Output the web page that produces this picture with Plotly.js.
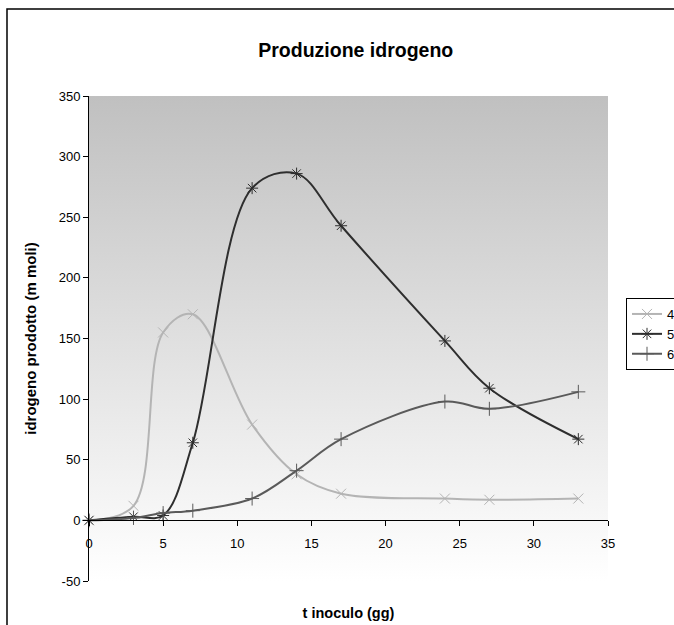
<!DOCTYPE html>
<html>
<head>
<meta charset="utf-8">
<script src="https://cdn.plot.ly/plotly-3.0.1.min.js"></script>
<style>html,body{margin:0;padding:0;background:#fff;}#chart{width:674px;height:625px;}</style>
</head>
<body>
<div id="chart"></div>
<script>
// Data
const days = [0, 3, 5, 7, 11, 14, 17, 24, 27, 33];
const serie4 = [0, 12, 155, 170, 79, 38, 22, 18, 17, 18];
const serie5 = [0, 3, 4, 64, 274, 286, 243, 148, 109, 67];
const serie6 = [0, 2, 6, 8, 18, 41, 67, 98, 92, 106];
const seriesNames = ["4", "5", "6"];
const xTicks = [0, 5, 10, 15, 20, 25, 30, 35];
const yTicks = [-50, 0, 50, 100, 150, 200, 250, 300, 350];

const font = "Liberation Sans, Arial, sans-serif";

function trace(y, name, color, symbol) {
  return {
    x: days, y: y, name: name, type: "scatter", mode: "lines+markers",
    line: {color: color, width: 2, shape: "spline", smoothing: 1},
    marker: {symbol: symbol, size: 10, color: color, line: {color: color, width: 1}},
    cliponaxis: false
  };
}

const traces = [
  trace(serie4, seriesNames[0], "#b4b4b4", "x-thin-open"),
  trace(serie5, seriesNames[1], "#2e2e2e", "asterisk-open"),
  trace(serie6, seriesNames[2], "#5a5a5a", "cross-thin-open")
];

const gradSvg = '<svg xmlns="http://www.w3.org/2000/svg" width="100" height="100" preserveAspectRatio="none">' +
  '<defs><linearGradient id="g" x1="0" y1="0" x2="0" y2="1">' +
  '<stop offset="0" stop-color="#c0c0c0"/><stop offset="1" stop-color="#ffffff"/></linearGradient></defs>' +
  '<rect width="100" height="100" fill="url(#g)"/></svg>';

const layout = {
  width: 674, height: 625,
  margin: {l: 89, r: 66, t: 96, b: 44, autoexpand: false},
  paper_bgcolor: "#ffffff",
  plot_bgcolor: "rgba(0,0,0,0)",
  font: {family: font, size: 13, color: "#000"},
  title: {text: "<b>Produzione idrogeno</b>", font: {family: font, size: 19.5, color: "#000"},
          x: 0.514, xref: "paper", xanchor: "center", y: 0.92, yref: "container", yanchor: "middle"},
  xaxis: {
    range: [0, 35], tickvals: xTicks, ticktext: xTicks.map(String),
    anchor: "free", position: 0.125,
    showline: true, linecolor: "#000", linewidth: 1,
    ticks: "outside", ticklen: 5, tickcolor: "#000", ticklabelstandoff: 6,
    showgrid: false, zeroline: false,
    tickfont: {family: font, size: 13},
    title: {text: "<b>t inoculo (gg)</b>", font: {family: font, size: 14.5}, standoff: 57}
  },
  yaxis: {
    range: [-50, 350], tickvals: yTicks, ticktext: yTicks.map(String),
    showline: true, linecolor: "#000", linewidth: 1,
    ticks: "outside", ticklen: 5, tickcolor: "#000",
    showgrid: false, zeroline: false,
    tickfont: {family: font, size: 13},
    title: {text: "<b>idrogeno prodotto (m moli)</b>", font: {family: font, size: 15}, standoff: 18}
  },
  legend: {
    x: 1.0347, y: 0.5835, xanchor: "left", yanchor: "top",
    bgcolor: "#ffffff", bordercolor: "#000", borderwidth: 1,
    font: {family: font, size: 13}, itemwidth: 30, tracegroupgap: 0
  },
  images: [{
    source: "data:image/svg+xml;charset=utf-8," + encodeURIComponent(gradSvg),
    xref: "paper", yref: "paper", x: 0, y: 1, sizex: 1, sizey: 1,
    sizing: "stretch", layer: "below", xanchor: "left", yanchor: "top"
  }],
  shapes: [{
    type: "rect", xref: "paper", yref: "paper",
    x0: -0.158, x1: 1.3, y0: -0.3, y1: 1.1794,
    line: {color: "#000", width: 1.5}, fillcolor: "rgba(0,0,0,0)", layer: "above"
  }],
  showlegend: true
};

Plotly.newPlot("chart", traces, layout, {displayModeBar: false, staticPlot: true});
</script>
</body>
</html>
